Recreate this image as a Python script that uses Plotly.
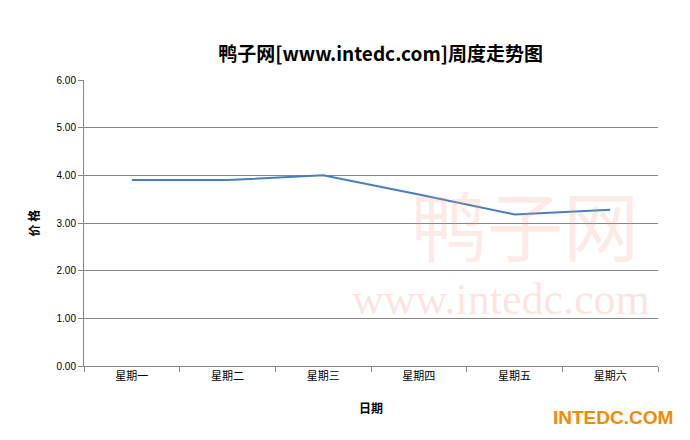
import plotly.graph_objects as go

days = ["星期一", "星期二", "星期三", "星期四", "星期五", "星期六"]
prices = [3.9, 3.9, 4.0, 3.6, 3.18, 3.28]
y_ticks = [0, 1, 2, 3, 4, 5, 6]
y_labels = ["0.00", "1.00", "2.00", "3.00", "4.00", "5.00", "6.00"]

fig = go.Figure(go.Scatter(x=days, y=prices, mode="lines",
                           line=dict(color="#4a7ebb", width=2)))
fig.update_layout(
    width=690, height=440, paper_bgcolor="white", plot_bgcolor="white",
    margin=dict(l=76, r=40, t=72, b=82), showlegend=False,
    font=dict(family="Noto Sans CJK SC", size=11, color="black"),
    title=dict(text="<b>鸭子网[www.intedc.com]周度走势图</b>", x=0.54, y=0.91,
               xanchor="center", font=dict(size=19)),
    xaxis=dict(range=[-0.5, 5.5], showline=True, linecolor="#868686", ticks="outside",
               tickcolor="#868686", ticklen=5, tickson="boundaries",
               title=dict(text="<b>日期</b>", font=dict(size=12), standoff=22),
               tickfont=dict(size=11)),
    yaxis=dict(range=[0, 6], tickvals=y_ticks, ticktext=y_labels,
               showgrid=True, gridcolor="#868686", showline=True,
               linecolor="#868686", ticks="outside", tickcolor="#868686",
               ticklen=5, tickfont=dict(size=10, family="Liberation Sans"),
               title=dict(text="<b>价 格</b>", font=dict(size=12), standoff=14)),
)
fig.add_annotation(text="www.intedc.com", xref="paper", yref="paper", x=0.99, y=0.14,
                   xanchor="right", showarrow=False,
                   font=dict(size=44, color="rgba(240,150,130,0.25)", family="Liberation Serif"))
fig.add_annotation(text="鸭子网", xref="paper", yref="paper", x=0.97, y=0.7,
                   xanchor="right", showarrow=False,
                   font=dict(size=76, color="rgba(240,150,130,0.2)"))
fig.add_annotation(text="<b>INTEDC.COM</b>", xref="paper", yref="paper", x=1.03, y=-0.18,
                   xanchor="right", yanchor="middle", showarrow=False,
                   font=dict(size=19, color="#f08c00", family="Liberation Sans"))
fig.write_html("out.html")
